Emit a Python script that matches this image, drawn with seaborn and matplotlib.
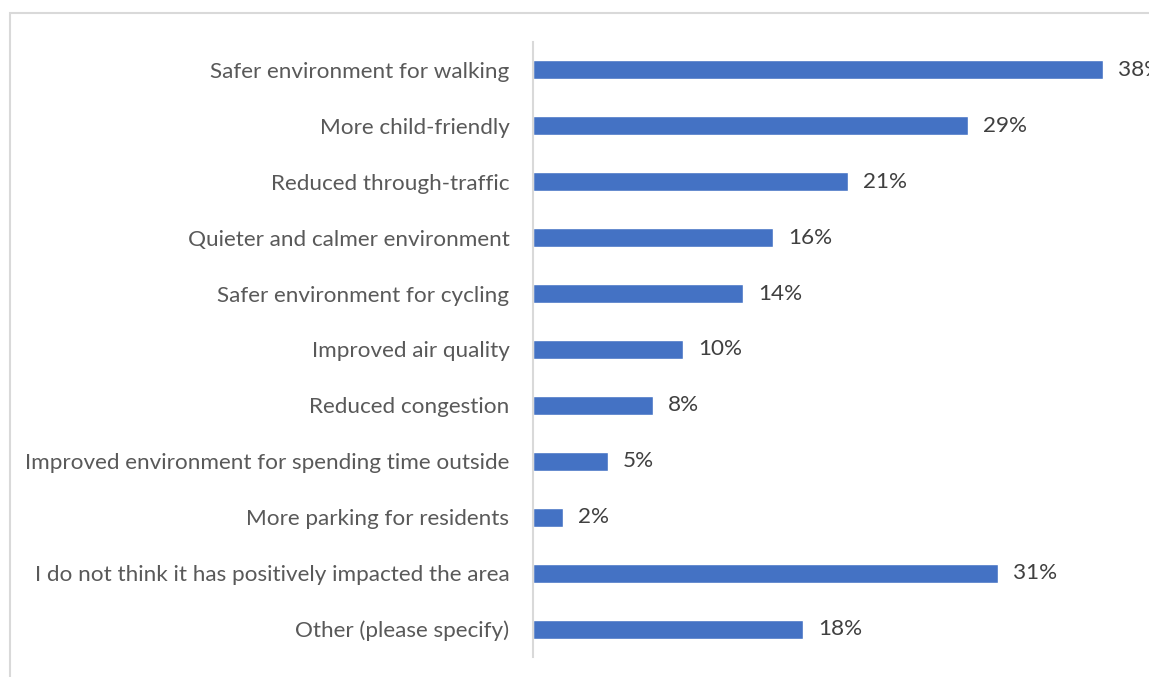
import matplotlib
matplotlib.use("Agg")
import matplotlib.pyplot as plt
import seaborn as sns
import pandas as pd
from matplotlib.patches import Rectangle

# survey answers, top to bottom as shown
categories = [
    "Safer environment for walking",
    "More child-friendly",
    "Reduced through-traffic",
    "Quieter and calmer environment",
    "Safer environment for cycling",
    "Improved air quality",
    "Reduced congestion",
    "Improved environment for spending time outside",
    "More parking for residents",
    "I do not think it has positively impacted the area",
    "Other (please specify)",
]
percent = [38, 29, 21, 16, 14, 10, 8, 5, 2, 31, 18]

df = pd.DataFrame({"category": categories, "percent": percent})

sns.set_style("white")
plt.rcParams["font.family"] = ["Lato", "DejaVu Sans"]

W, H = 1149, 677
fig = plt.figure(figsize=(W / 100, H / 100), dpi=100)
# axes placed in pixels: y spine at x=533, plot from y=42 to y=657
ax = fig.add_axes([533 / W, (H - 657) / H, 600 / W, 615 / H])

sns.barplot(data=df, x="percent", y="category", ax=ax, color="#4472C4",
            saturation=1, width=0.34, orient="h")

ax.set_xlim(0, 40)
ax.set_xlabel("")
ax.set_ylabel("")
ax.set_xticks([])
for s in ["top", "right", "bottom"]:
    ax.spines[s].set_visible(False)
ax.spines["left"].set_color("#D9D9D9")
ax.spines["left"].set_linewidth(1.5)
ax.tick_params(axis="y", length=0, pad=17, labelsize=16.2, labelcolor="#595959")

for i, v in enumerate(percent):
    ax.text(v + 1.0, i, f"{v}%", va="center", ha="left", fontsize=16.2,
            color="#404040", clip_on=False)

# light chart-area border, running off the right and bottom edges
fig.patches.append(Rectangle((10 / W, -0.05), 1.2, (H - 13) / H + 0.05,
                             transform=fig.transFigure, fill=False,
                             edgecolor="#D9D9D9", linewidth=1.5))

fig.savefig("out.png", dpi=100)
